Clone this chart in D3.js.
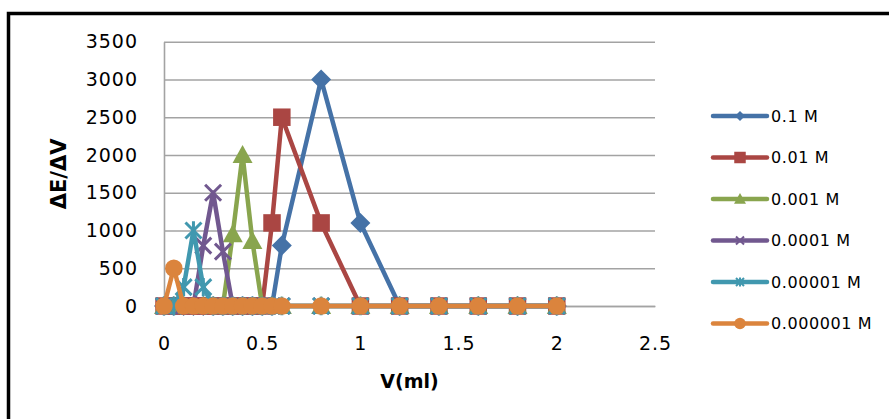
<!DOCTYPE html>
<html>
<head>
<meta charset="utf-8">
<script src="https://cdn.jsdelivr.net/npm/d3@7"></script>
<style>
  html, body { margin: 0; padding: 0; background: #fff; }
  svg { display: block; }
  text { font-family: "DejaVu Sans", sans-serif; fill: #000; }
</style>
</head>
<body>
<svg id="chart" width="889" height="419"></svg>
<script>
// Titration volumes (ml)
const volumes = [0, 0.05, 0.1, 0.15, 0.2, 0.25, 0.3, 0.35, 0.4, 0.45, 0.5, 0.55, 0.6,
                 0.8, 1.0, 1.2, 1.4, 1.6, 1.8, 2.0];

// First derivative ΔE/ΔV for each concentration
const conc_1e1 = [0, 0, 0, 0, 0, 0, 0, 0, 0, 0, 0, 0, 800, 3000, 1100, 0, 0, 0, 0, 0];
const conc_1e2 = [0, 0, 0, 0, 0, 0, 0, 0, 0, 0, 0, 1100, 2500, 1100, 0, 0, 0, 0, 0, 0];
const conc_1e3 = [0, 0, 0, 0, 0, 0, 0, 950, 2000, 860, 0, 0, 0, 0, 0, 0, 0, 0, 0, 0];
const conc_1e4 = [0, 0, 0, 0, 800, 1500, 720, 0, 0, 0, 0, 0, 0, 0, 0, 0, 0, 0, 0, 0];
const conc_1e5 = [0, 0, 250, 1000, 250, 0, 0, 0, 0, 0, 0, 0, 0, 0, 0, 0, 0, 0, 0, 0];
const conc_1e6 = [0, 500, 0, 0, 0, 0, 0, 0, 0, 0, 0, 0, 0, 0, 0, 0, 0, 0, 0, 0];

const seriesNames = ["0.1 M", "0.01 M", "0.001 M", "0.0001 M", "0.00001 M", "0.000001 M"];
const seriesValues = [conc_1e1, conc_1e2, conc_1e3, conc_1e4, conc_1e5, conc_1e6];
const seriesColors = ["#4572A7", "#AA4643", "#89A54E", "#71588F", "#4198AF", "#DB843D"];
const seriesMarkers = ["diamond", "square", "triangle", "cross", "star", "circle"];

const yTicks = [0, 500, 1000, 1500, 2000, 2500, 3000, 3500];
const xTicks = [0, 0.5, 1, 1.5, 2, 2.5];

const svg = d3.select("#chart");

// Page frame around the chart
svg.append("path")
  .attr("d", "M8.5,419 V13.5 H889")
  .attr("fill", "none")
  .attr("stroke", "#000")
  .attr("stroke-width", 3.5);

const x = d3.scaleLinear().domain([0, 2.5]).range([164, 655]);
const y = d3.scaleLinear().domain([0, 3500]).range([306, 41.7]);

// Horizontal gridlines
svg.append("g")
  .attr("transform", `translate(${x(0)},0)`)
  .call(d3.axisLeft(y).tickValues(yTicks).tickSize(-(x(2.5) - x(0))).tickFormat(""))
  .call(g => g.select(".domain").remove())
  .call(g => g.selectAll("line").attr("stroke", "#a3a3a3").attr("stroke-width", 1.6));

// Vertical axis line and labels
const yAxis = svg.append("g")
  .attr("transform", `translate(${x(0)},0)`)
  .call(d3.axisLeft(y).tickValues(yTicks).tickSize(0).tickPadding(26).tickFormat(d3.format("d")));
yAxis.select(".domain").attr("stroke", "#a3a3a3").attr("stroke-width", 1.6);
yAxis.selectAll("text")
  .attr("font-family", "DejaVu Sans, sans-serif")
  .attr("font-size", 19)
  .attr("letter-spacing", 1)
  .attr("fill", "#000");

// Horizontal axis line and labels
const xAxis = svg.append("g")
  .attr("transform", `translate(0,${y(0)})`)
  .call(d3.axisBottom(x).tickValues(xTicks).tickSize(0).tickPadding(31).tickFormat(d3.format("")));
xAxis.select(".domain").attr("stroke", "#a3a3a3").attr("stroke-width", 1.6);
xAxis.selectAll("text")
  .attr("font-family", "DejaVu Sans, sans-serif")
  .attr("font-size", 19)
  .attr("letter-spacing", 1)
  .attr("fill", "#000");

// Axis titles
svg.append("text")
  .attr("x", (x(0) + x(2.5)) / 2)
  .attr("y", 388)
  .attr("text-anchor", "middle")
  .attr("font-weight", "bold")
  .attr("font-size", 19)
  .text("V(ml)");

svg.append("text")
  .attr("transform", `translate(66,${(y(0) + y(3500)) / 2}) rotate(-90)`)
  .attr("text-anchor", "middle")
  .attr("font-weight", "bold")
  .attr("font-size", 21)
  .text("ΔE/ΔV");

// Marker shapes
const crossSymbol = {
  draw(ctx, size) {
    const r = Math.sqrt(size) / 2;
    ctx.moveTo(-r, -r); ctx.lineTo(r, r);
    ctx.moveTo(r, -r); ctx.lineTo(-r, r);
  }
};
const starSymbol = {
  draw(ctx, size) {
    const r = Math.sqrt(size) / 2;
    ctx.moveTo(-r, -r); ctx.lineTo(r, r);
    ctx.moveTo(r, -r); ctx.lineTo(-r, r);
    ctx.moveTo(0, -r * 1.15); ctx.lineTo(0, r * 1.15);
  }
};
const diamondSymbol = {
  draw(ctx, size) {
    const r = Math.sqrt(size) / 2;
    ctx.moveTo(0, -r); ctx.lineTo(r, 0); ctx.lineTo(0, r); ctx.lineTo(-r, 0); ctx.closePath();
  }
};
const squareSymbol = {
  draw(ctx, size) {
    const r = Math.sqrt(size) / 2;
    ctx.rect(-r, -r, 2 * r, 2 * r);
  }
};
const triangleSymbol = {
  draw(ctx, size) {
    const r = Math.sqrt(size) / 2;
    ctx.moveTo(0, -r); ctx.lineTo(r, r * 0.8); ctx.lineTo(-r, r * 0.8); ctx.closePath();
  }
};
const circleSymbol = {
  draw(ctx, size) {
    const r = Math.sqrt(size) / 2;
    ctx.moveTo(r, 0); ctx.arc(0, 0, r, 0, 2 * Math.PI);
  }
};
const symbolTypes = {
  diamond: diamondSymbol, square: squareSymbol, triangle: triangleSymbol,
  cross: crossSymbol, star: starSymbol, circle: circleSymbol
};
const strokeOnly = { cross: true, star: true };

// Marker extents (px) on the plot and in the legend
const plotMarkerSize = { diamond: 20, square: 17.5, triangle: 20, cross: 16, star: 16, circle: 17.5 };
const legendMarkerSize = { diamond: 10, square: 11.5, triangle: 12, cross: 8, star: 8, circle: 11.5 };

function drawMarker(sel, kind, color, extent, strokeW) {
  const path = d3.symbol().type(symbolTypes[kind]).size(extent * extent)();
  if (strokeOnly[kind]) {
    sel.attr("d", path).attr("fill", "none").attr("stroke", color).attr("stroke-width", strokeW);
  } else {
    sel.attr("d", path).attr("fill", color).attr("stroke", "none");
  }
}

const line = d3.line().x(d => x(d[0])).y(d => y(d[1]));

// Series: line then markers, each drawn over the previous one
seriesValues.forEach((vals, i) => {
  const pts = volumes.map((v, j) => [v, vals[j]]);
  const g = svg.append("g");
  g.append("path")
    .datum(pts)
    .attr("d", line)
    .attr("fill", "none")
    .attr("stroke", seriesColors[i])
    .attr("stroke-width", 4.5)
    .attr("stroke-linejoin", "round");
  g.selectAll("path.mk")
    .data(pts)
    .join("path")
    .attr("class", "mk")
    .attr("transform", d => `translate(${x(d[0])},${y(d[1])})`)
    .each(function () {
      drawMarker(d3.select(this), seriesMarkers[i], seriesColors[i], plotMarkerSize[seriesMarkers[i]], 3);
    });
});

// Legend
const legendY = d3.scaleLinear().domain([0, 5]).range([116, 323.5]);
const legend = svg.append("g");
seriesNames.forEach((name, i) => {
  const cy = legendY(i);
  legend.append("line")
    .attr("x1", 713).attr("x2", 767)
    .attr("y1", cy).attr("y2", cy)
    .attr("stroke", seriesColors[i])
    .attr("stroke-width", 4.5)
    .attr("stroke-linecap", "round");
  drawMarker(
    legend.append("path").attr("transform", `translate(740,${cy})`),
    seriesMarkers[i], seriesColors[i], legendMarkerSize[seriesMarkers[i]], 2
  );
  legend.append("text")
    .attr("x", 771)
    .attr("y", cy)
    .attr("dy", "0.36em")
    .attr("font-size", 16)
    .attr("letter-spacing", 0.6)
    .text(name);
});
</script>
</body>
</html>
